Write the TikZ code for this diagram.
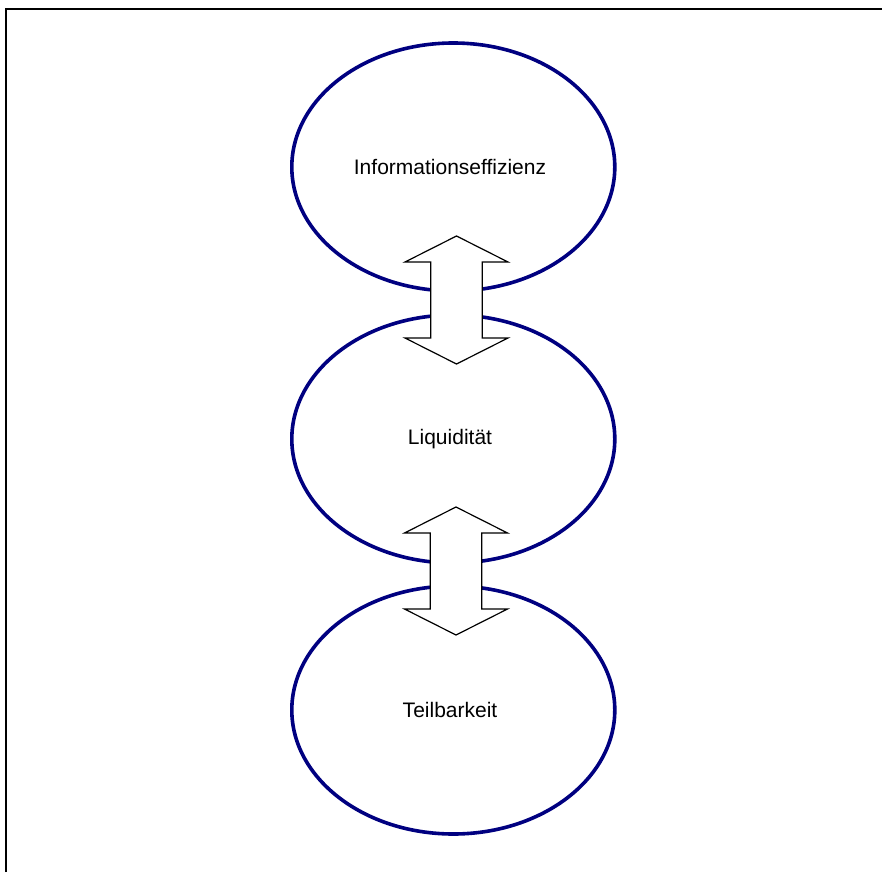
\documentclass[tikz,border=0pt]{standalone}
\usepackage{fontspec}
\setmainfont{Liberation Sans}
\usetikzlibrary{shapes.geometric,calc}
\definecolor{ellblue}{RGB}{0,0,128}
\begin{document}
\begin{tikzpicture}[x=1pt,y=-1pt,
  ell/.style={ellipse,draw=ellblue,line width=3.6pt,minimum width=323pt,minimum height=248pt,inner sep=0pt},
  lbl/.style={font=\fontsize{21}{25}\selectfont,inner sep=0pt},
  blockarrow/.style={draw=black,fill=white,line width=1.2pt,line join=miter}]
\useasboundingbox (0,0) rectangle (882,872);
\draw[line width=2.2pt] (6,872) -- (6,9) -- (882,9);
\node[ell] (info) at (453.3,167) {};
\node[ell] (liq) at (453.3,439) {};
\node[ell] (teil) at (453.3,710) {};
\node[lbl] (tinfo) at (450,167) {Informationseffizienz};
\node[lbl] (tliq) at (450,439) {Liquidität};
\node[lbl] (tteil) at (450,710) {Teilbarkeit};
\coordinate (a1) at (456.5,300);
\coordinate (a2) at (456,571);
\foreach \c in {a1,a2}{
  \draw[blockarrow] ($(\c)+(0,-64)$) -- ++(51.5,26) -- ++(-25.7,0) -- ++(0,76) -- ++(25.7,0)
    -- ($(\c)+(0,64)$) -- ++(-51.5,-26) -- ++(25.7,0) -- ++(0,-76) -- ++(-25.7,0) -- cycle;
}
\end{tikzpicture}
\end{document}
